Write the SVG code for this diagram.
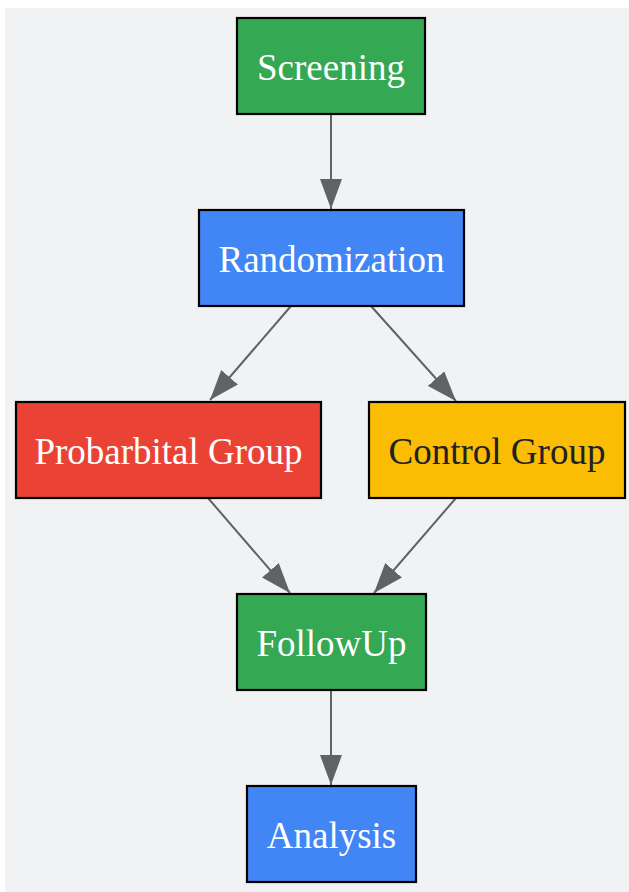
<svg xmlns="http://www.w3.org/2000/svg" width="629" height="892" viewBox="0 0 629 892">
<style>
.n rect{stroke:#000;stroke-width:2.2}
.n text{font-family:"Liberation Serif","Times New Roman",serif;font-size:37px;text-anchor:middle;fill:#fff}
.e line{stroke:#5f6368;stroke-width:2;fill:none}
</style>
<defs>
<marker id="ah" viewBox="0 0 30 22" markerWidth="30" markerHeight="22" refX="30" refY="11" orient="auto" markerUnits="userSpaceOnUse">
<path d="M0,0 L30,11 L0,22 z" fill="#5f6368"/>
</marker>
</defs>
<rect x="5" y="8" width="624" height="884" fill="#f1f2f4"/>
<g class="e" id="edges">
<line x1="331" y1="114" x2="331" y2="209" marker-end="url(#ah)"/>
<line x1="291" y1="306" x2="210" y2="400" marker-end="url(#ah)"/>
<line x1="371" y1="306" x2="456" y2="401" marker-end="url(#ah)"/>
<line x1="208" y1="498" x2="290" y2="593" marker-end="url(#ah)"/>
<line x1="456" y1="498" x2="374" y2="593" marker-end="url(#ah)"/>
<line x1="331" y1="690" x2="331" y2="785" marker-end="url(#ah)"/>
</g>
<g class="n" id="screening"><rect x="237" y="18" width="188" height="96" fill="#34a853"/><text x="331" y="80">Screening</text></g>
<g class="n" id="randomization"><rect x="199" y="210" width="265" height="96" fill="#4285f4"/><text x="331.5" y="272">Randomization</text></g>
<g class="n" id="probarbital"><rect x="16" y="402" width="305" height="96" fill="#ea4335"/><text x="168.5" y="464">Probarbital Group</text></g>
<g class="n" id="control"><rect x="369" y="402" width="256" height="96" fill="#fbbc04"/><text x="497" y="464" style="fill:#202124">Control Group</text></g>
<g class="n" id="followup"><rect x="237" y="594" width="189" height="96" fill="#34a853"/><text x="331.5" y="656">FollowUp</text></g>
<g class="n" id="analysis"><rect x="247" y="786" width="169" height="96" fill="#4285f4"/><text x="331.5" y="848">Analysis</text></g>
</svg>
